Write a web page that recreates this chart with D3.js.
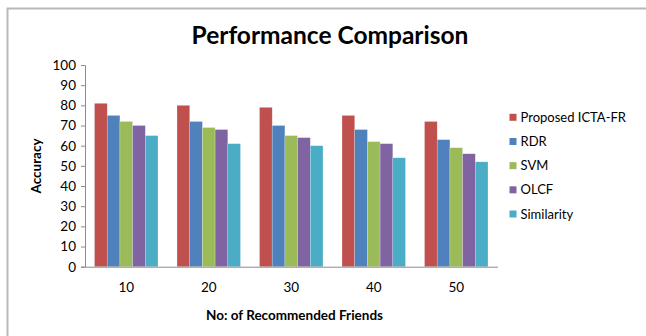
<!DOCTYPE html>
<html>
<head>
<meta charset="utf-8">
<script src="https://cdn.jsdelivr.net/npm/d3@7"></script>
<style>
  body { margin: 0; background: white; }
  text { font-family: Lato, "Open Sans", sans-serif; }
</style>
</head>
<body>
<div id="graph-container"></div>
<script>
const categories = ['10', '20', '30', '40', '50'];
const seriesNames = ['Proposed ICTA-FR', 'RDR', 'SVM', 'OLCF', 'Similarity'];
const proposed = [81, 80, 79, 75, 72];
const rdr = [75, 72, 70, 68, 63];
const svm = [72, 69, 65, 62, 59];
const olcf = [70, 68, 64, 61, 56];
const similarity = [65, 61, 60, 54, 52];
const yTicks = [0, 10, 20, 30, 40, 50, 60, 70, 80, 90, 100];

const seriesValues = [proposed, rdr, svm, olcf, similarity];
const color = ['#C0504D', '#4F81BD', '#9BBB59', '#8064A2', '#4BACC6'];

const width = 646;
const height = 336;
const plot = { left: 85, right: 497.5, top: 65, bottom: 266.7 };

const svg = d3.select('#graph-container')
  .append('svg')
  .attr('width', width)
  .attr('height', height)
  .attr('style', 'background:white;display:block');

// chart area border (runs off the right / bottom edge)
svg.append('rect')
  .attr('x', 7.5)
  .attr('y', 8.5)
  .attr('width', 700)
  .attr('height', 400)
  .attr('fill', 'white')
  .attr('stroke', '#b8b8b8')
  .attr('stroke-width', 2);

svg.append('text')
  .attr('x', 330)
  .attr('y', 43.5)
  .attr('text-anchor', 'middle')
  .attr('font-size', 24.5)
  .attr('font-weight', 'bold')
  .attr('fill', '#000')
  .text('Performance Comparison');

const x0 = d3.scaleBand().domain(categories).range([plot.left, plot.right]).padding(0);
const x1 = d3.scaleBand().domain(seriesNames).range([0, x0.bandwidth()]).paddingInner(0).paddingOuter(0.75);
const y = d3.scaleLinear().domain([0, 100]).range([plot.bottom, plot.top]);

// bars
const groups = svg.selectAll('g.group')
  .data(categories)
  .join('g')
  .attr('class', 'group')
  .attr('transform', d => `translate(${x0(d)},0)`);

groups.selectAll('rect')
  .data((d, ci) => seriesNames.map((s, si) => ({ s, si, v: seriesValues[si][ci] })))
  .join('rect')
  .attr('x', d => x1(d.s))
  .attr('y', d => y(d.v))
  .attr('width', x1.bandwidth())
  .attr('height', d => y(0) - y(d.v))
  .attr('fill', d => color[d.si])
  .attr('stroke', 'rgba(255,255,255,0.35)')
  .attr('stroke-width', 0.6);

// y axis
const yAxis = svg.append('g')
  .attr('transform', `translate(${plot.left},0)`)
  .call(d3.axisLeft(y).tickValues(yTicks).tickSize(4).tickPadding(5).tickSizeOuter(4));
yAxis.selectAll('path, line').attr('stroke', '#8c8c8c');
yAxis.selectAll('text').attr('font-size', 13.5).attr('fill', '#000')
  .attr('font-family', 'Lato, sans-serif');

// x axis
const xAxis = svg.append('g')
  .attr('transform', `translate(0,${plot.bottom})`)
  .call(d3.axisBottom(x0).tickSize(0).tickPadding(16).tickSizeOuter(0));
xAxis.selectAll('path').attr('stroke', '#8c8c8c');
xAxis.selectAll('text').attr('font-size', 13.5).attr('fill', '#000')
  .attr('font-family', 'Lato, sans-serif');

// axis titles
svg.append('text')
  .attr('x', 294.5)
  .attr('y', 319.5)
  .attr('text-anchor', 'middle')
  .attr('font-size', 13.5)
  .attr('font-weight', 'bold')
  .text('No: of Recommended Friends');

svg.append('text')
  .attr('transform', 'translate(40.5,166) rotate(-90)')
  .attr('text-anchor', 'middle')
  .attr('font-size', 13.5)
  .attr('font-weight', 'bold')
  .text('Accuracy');

// legend
const legendY = d3.scalePoint().domain(seriesNames).range([117.3, 214]);
const legend = svg.selectAll('g.legend-item')
  .data(seriesNames)
  .join('g')
  .attr('class', 'legend-item')
  .attr('transform', d => `translate(509.5,${legendY(d)})`);

legend.append('rect')
  .attr('x', 0)
  .attr('y', -3.5)
  .attr('width', 7)
  .attr('height', 7)
  .attr('fill', (d, i) => color[i]);

legend.append('text')
  .attr('x', 11)
  .attr('y', 0)
  .attr('dy', '0.35em')
  .attr('font-size', 13)
  .attr('fill', '#000')
  .text(d => d);
</script>
</body>
</html>
